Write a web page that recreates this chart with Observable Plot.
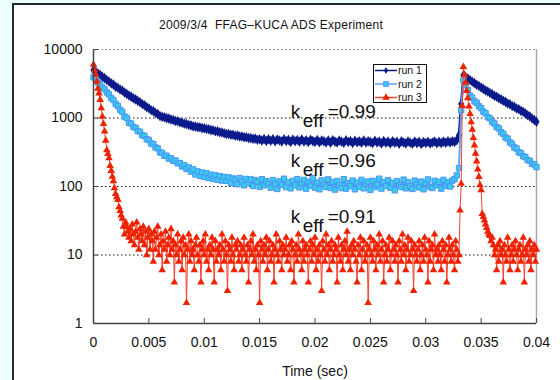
<!DOCTYPE html>
<html><head><meta charset="utf-8">
<script src="https://cdn.jsdelivr.net/npm/d3@7"></script>
<script src="https://cdn.jsdelivr.net/npm/@observablehq/plot@0.6"></script>
<style>
html,body{margin:0;padding:0;background:#ecfefe;width:560px;height:380px;overflow:hidden;font-family:"Liberation Sans",Arial,sans-serif;}
#panel{position:absolute;left:12px;top:3px;width:560px;height:400px;background:#fff;border-left:2px solid #1e2a2a;border-top:2px solid #1e2a2a;}
#title{position:absolute;left:0;top:18px;width:542px;text-align:center;font-size:12px;letter-spacing:0.25px;white-space:pre;color:#111;}
#chart{position:absolute;left:0;top:0;}
#legend{position:absolute;left:373px;top:64px;width:52px;height:37px;background:#fff;border:1px solid #111;}
</style></head>
<body>
<div id="panel"></div>
<div id="chart"></div>
<div id="title"></div>
<div id="legend"></div>
<script>
const title = "2009/3/4  FFAG\u2013KUCA ADS Experiment";
const xLabel = "Time (sec)";
const seriesNames = ["run 1", "run 2", "run 3"];
const dt12 = 0.0002; // sampling interval of run 1 and run 2 (s)
const dt3 = 0.0001;  // sampling interval of run 3 (s)

const run1 = [5010,4760,4470,4270,4000,3820,3580,3420,3200,3070,
2870,2770,2610,2520,2360,2250,2130,2050,1940,1870,
1770,1700,1600,1540,1440,1390,1300,1260,1180,1140,
1070,1040,1025,995,980,950,935,905,895,865,
855,
828,818,790,780,755,752,733,731,712,710,
690,686,665,662,642,638,618,614,598,585,
584,568,570,552,553,538,537,522,524,510,
508,496,500,482,488,470,492,462,488,466,
490,458,484,470,452,488,461,479,448,483,
457,478,450,486,455,472,445,480,460,448,
475,442,470,458,440,468,436,474,452,438,
470,450,434,472,446,462,432,466,444,458,
436,468,440,456,448,428,464,438,455,426,
460,436,452,424,458,434,450,422,456,440,
426,454,436,420,452,430,448,418,446,432,
450,424,440,455,428,448,430,452,434,456,
438,458,446,475,560,
1600,4200,
3980,3760,3590,3380,3230,3050,2930,2780,2660,2520,2430,2310,2230,2110,2040,1940,1870,1780,1720,1630,1590,1500,1460,1380,1340,1270,1235,1165,1100,1050,985,935,880];

const run2 = [3930,3650,3290,3120,2790,2630,2360,2210,1960,1830,
1610,1500,1320,1230,1050,1000,850,830,740,720,
645,630,560,548,490,478,425,415,372,360,
315,310,280,282,255,258,236,240,218,220,
196,204,180,190,165,178,150,166,143,160,
138,156,133,149,129,146,125,141,122,138,
121,136,112,131,124,108,133,117,104,129,
113,127,102,124,116,99,128,104,120,110,
96,124,108,92,119,105,130,98,115,94,
121,104,128,97,112,125,93,117,103,132,
96,114,91,123,106,99,127,95,116,90,
120,104,95,128,93,112,101,122,91,114,
99,125,94,110,118,89,121,98,107,130,
93,116,102,124,96,113,88,120,105,98,
126,94,115,101,92,122,106,97,118,91,
112,127,99,95,121,104,117,93,125,102,
115,100,122,128,145,185,
1300,3600,
3020,2560,2120,1980,1750,1670,1480,1390,1240,1170,1030,985,875,830,735,705,620,590,520,500,440,420,372,358,315,308,276,268,242,238,214,210,192];

const run3 = [6000,5000,4300,3400,2700,2300,1850,1400,1050,820,640,470,340,300,260,200,170,140,120,95,78,70,64,50,44,38,34,26,20,30,26,22,18,
24,16,28,20,14,22,30,18,12,24,20,16,26,14,22,10,18,24,12,20,
16,8,22,12,18,26,10,14,20,6,16,12,22,8,14,18,10,24,12,16,
4,14,10,20,8,12,16,6,18,10,14,2,12,20,8,16,10,12,6,14,
18,10,8,14,4,12,16,10,20,8,12,6,14,10,18,12,4,16,8,12,
10,14,6,20,12,8,16,10,3,14,12,8,18,10,6,14,12,16,8,10,
14,6,12,18,10,8,14,4,12,16,10,20,8,12,6,14,10,2,16,12,
8,14,10,18,6,12,16,8,10,14,4,12,20,10,8,16,12,6,14,10,
12,18,8,10,14,6,16,12,4,10,14,8,20,12,10,6,16,8,12,14,
10,4,12,16,8,14,10,18,6,12,8,14,10,3,16,12,8,20,10,14,
6,12,16,8,10,14,12,4,18,10,8,14,6,12,16,10,22,8,12,6,
14,10,16,12,8,4,14,10,18,6,12,16,8,10,14,2,12,18,10,8,
16,12,6,14,10,20,8,12,16,4,10,14,8,12,18,6,10,16,12,8,
14,10,4,16,12,8,20,10,14,6,12,18,8,10,16,12,3,14,10,8,
12,16,6,10,14,8,18,12,10,4,16,8,12,14,6,20,10,12,8,14,
10,6,16,12,8,14,4,10,18,12,8,14,10,6,16,12,8,
10,45,110,1500,5600,
4270,3300,2500,1950,1480,1150,870,676,513,398,302,234,178,138,105,89,40,36,32,28,25,22,20,19,16,18,14,
10,12,6,14,8,16,10,12,4,14,10,8,18,12,6,10,14,8,12,16,
10,6,12,14,8,10,18,4,12,10,14,8,16,6,12,10,14,8,12];

const xTicks = [0,0.005,0.01,0.015,0.02,0.025,0.03,0.035,0.04];
const xTickLabels = ["0","0.005","0.01","0.015","0.02","0.025","0.03","0.035","0.04"];
const yTicks = [1,10,100,1000,10000];
const yTickLabels = ["1","10","100","1000","10000"];
const yGrid = [10,100,1000];

// k_eff annotations (anchored in data coordinates)
const keffLabels = ["0.99","0.96","0.91"];
const keffTime = 0.0178;
const keffLevel = [1000,190,29];

const colors = {
  run1: "#0b1a8a",
  run2line: "#5ea2ff", run2fill: "#3ccbe6", run2stroke: "#4a93ff",
  run3line: "#f2442e", run3fill: "#ee2200"
};

const rows = (vals, step) => vals.map((v, i) => ({t: i * step, v}));
const d1 = rows(run1, dt12), d2 = rows(run2, dt12), d3r = rows(run3, dt3);
const keffRows = keffLabels.map((s, i) => ({t: keffTime, v: keffLevel[i], s}));

const font = "'Liberation Sans', Arial, sans-serif";

const chart = Plot.plot({
  width: 560, height: 380,
  marginLeft: 93, marginRight: 24, marginTop: 49, marginBottom: 57,
  style: {background: "transparent", fontFamily: font, fontSize: "14px", color: "#111", overflow: "visible"},
  x: {domain: [0, 0.04]},
  y: {type: "log", domain: [1, 10000]},
  marks: [
    Plot.gridY(yGrid, {stroke: "#111", strokeOpacity: 1, strokeDasharray: "1.5,2.5"}),
    Plot.ruleY([10000], {stroke: "#9a9a9a", strokeDasharray: "2,2"}),
    Plot.ruleX([0.04], {stroke: "#a8a8a8", strokeWidth: 1.5}),
    Plot.line(d1, {x: "t", y: "v", stroke: colors.run1, strokeWidth: 2.5}),
    Plot.dot(d1, {x: "t", y: "v", symbol: "diamond", r: 3.2, fill: colors.run1, stroke: "none"}),
    Plot.line(d2, {x: "t", y: "v", stroke: colors.run2line, strokeWidth: 2}),
    Plot.dot(d2, {x: "t", y: "v", symbol: "square", r: 3, fill: colors.run2fill, stroke: colors.run2stroke, strokeWidth: 1}),
    Plot.line(d3r, {x: "t", y: "v", stroke: colors.run3line, strokeWidth: 1}),
    Plot.dot(d3r, {x: "t", y: "v", symbol: "triangle", r: 2.8, fill: colors.run3fill, stroke: "none"}),
    Plot.ruleX([0], {stroke: "#444", strokeWidth: 1.5}),
    Plot.ruleY([1], {stroke: "#444", strokeWidth: 1.5}),
    Plot.axisX(xTicks, {tickSize: 0, tickPadding: 14, tickFormat: d => xTickLabels[xTicks.indexOf(d)], label: null, fontSize: 14}),
    Plot.axisX(xTicks, {tickSize: -5, tickFormat: () => "", label: null, stroke: "#444"}),
    Plot.axisY(yTicks, {tickSize: 0, tickPadding: 11, tickFormat: d => yTickLabels[yTicks.indexOf(d)], label: null, fontSize: 14}),
    Plot.axisY(yTicks, {tickSize: -5, tickFormat: () => "", label: null, stroke: "#444"}),
    Plot.text([xLabel], {frameAnchor: "bottom", dy: 52, lineAnchor: "bottom", fontSize: 14}),
    Plot.text(keffRows, {x: "t", y: "v", text: () => "k", textAnchor: "start", lineAnchor: "bottom", fontSize: 19}),
    Plot.text(keffRows, {x: "t", y: "v", text: () => "eff", dx: 12, dy: 9, textAnchor: "start", lineAnchor: "bottom", fontSize: 19}),
    Plot.text(keffRows, {x: "t", y: "v", text: d => "=" + d.s, dx: 37, textAnchor: "start", lineAnchor: "bottom", fontSize: 19})
  ]
});
document.getElementById("chart").appendChild(chart);
document.getElementById("title").textContent = title;

// legend
const lg = d3.select("#legend").append("svg").attr("width", 52).attr("height", 37)
  .style("font-family", font).style("font-size", "10.5px");
const legendItems = [
  {name: seriesNames[0], line: colors.run1, sym: d3.symbolDiamond, size: 14, fill: colors.run1, stroke: "none"},
  {name: seriesNames[1], line: colors.run2line, sym: d3.symbolSquare, size: 22, fill: colors.run2fill, stroke: colors.run2stroke},
  {name: seriesNames[2], line: colors.run3line, sym: d3.symbolTriangle, size: 24, fill: colors.run3fill, stroke: "none"}
];
legendItems.forEach((it, i) => {
  const y = 5.5 + i * 13.5;
  lg.append("line").attr("x1", 1).attr("x2", 23).attr("y1", y).attr("y2", y)
    .attr("stroke", it.line).attr("stroke-width", 1.5);
  lg.append("path").attr("d", d3.symbol(it.sym, it.size)()).attr("transform", `translate(12,${y})`)
    .attr("fill", it.fill).attr("stroke", it.stroke);
  lg.append("text").attr("x", 24).attr("y", y).attr("dy", "0.35em").attr("fill", "#111").text(it.name);
});
</script>
</body></html>
